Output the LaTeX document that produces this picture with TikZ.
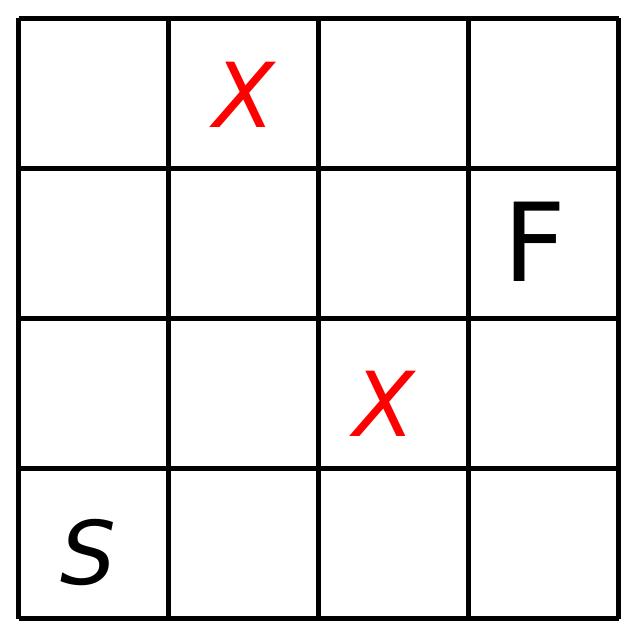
\documentclass[tikz,border=0pt]{standalone}
\usepackage{fontspec}
\setmainfont{DejaVu Sans}
\usepackage{xcolor}
\definecolor{gridink}{HTML}{000000}
\definecolor{blockred}{HTML}{FF0000}

\begin{document}
\begin{tikzpicture}[
  x=0.02cm,
  y=-0.02cm,
  every node/.style={inner sep=0pt},
  cell/.style={gridink, line width=2.3pt},
  blocked/.style={blockred, font=\fontsize{51}{51}\selectfont\itshape},
  endpoint/.style={gridink, font=\fontsize{50}{50}\selectfont\itshape},
  goal/.style={gridink, font=\fontsize{62}{62}\selectfont}
]
  \useasboundingbox (0,0) rectangle (638,638);

  % ---- the 4 x 4 board ----------------------------------------------------
  \foreach \k in {0,...,4} {
    \draw[cell] (18.5+150*\k,18.5) -- (18.5+150*\k,618.5);
    \draw[cell] (18.5,18.5+150*\k) -- (618.5,18.5+150*\k);
  }

  % ---- start, finish and the blocked cells --------------------------------
  \node[endpoint] (start) at (88,553) {S};
  \node[goal] (finish) at (535,242) {F};
  \node[blocked] (blockA) at (244,95) {X};
  \node[blocked] (blockB) at (384,404) {X};
\end{tikzpicture}
\end{document}
